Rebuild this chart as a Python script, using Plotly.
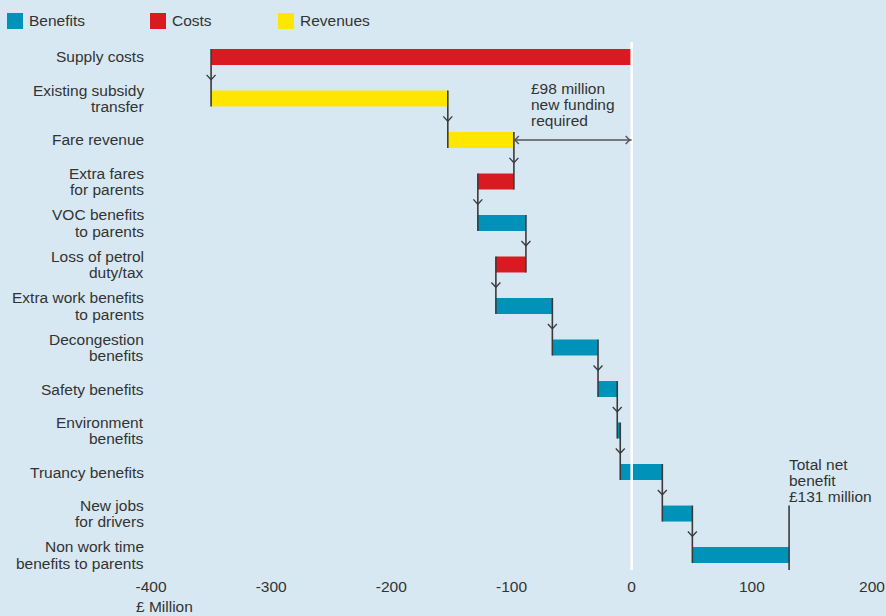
import plotly.graph_objects as go

# Row labels, top to bottom
categories = [
    "Supply costs",
    "Existing subsidy<br>transfer",
    "Fare revenue",
    "Extra fares<br>for parents",
    "VOC benefits<br>to parents",
    "Loss of petrol<br>duty/tax",
    "Extra work benefits<br>to parents",
    "Decongestion<br>benefits",
    "Safety benefits",
    "Environment<br>benefits",
    "Truancy benefits",
    "New jobs<br>for drivers",
    "Non work time<br>benefits to parents",
]
# Change contributed by each item (£ million)
changes = [-350, 197, 55, -30, 40, -25, 47, 38, 16, 2.5, 35, 25, 80.5]
kinds = ["Costs", "Revenues", "Revenues", "Costs", "Benefits", "Costs",
         "Benefits", "Benefits", "Benefits", "Benefits", "Benefits",
         "Benefits", "Benefits"]
funding_gap = 98
net_benefit = 131
x_ticks = [-400, -300, -200, -100, 0, 100, 200]

colors = {"Benefits": "#0092b9", "Costs": "#d91b21", "Revenues": "#ffe600"}
bg = "#d7e8f2"
ink = "#333333"
line_col = "#3a3a3a"
FONT = "Liberation Sans, Arial, Helvetica, sans-serif"
FS = 15.5
LINE_H = 16.3

# running totals
starts, ends = [], []
total = 0
for c in changes:
    starts.append(total)
    total += c
    ends.append(total)

rows = list(range(len(categories)))
bar_w = 0.385
hw = bar_w / 2
y_top, y_bot = -0.36, 12.36

fig = go.Figure()
for kind in ["Benefits", "Costs", "Revenues"]:
    idx = [i for i in rows if kinds[i] == kind]
    fig.add_trace(go.Bar(
        name=kind, orientation="h",
        y=[rows[i] for i in idx],
        x=[changes[i] for i in idx],
        base=[starts[i] for i in idx],
        width=bar_w,
        marker=dict(color=colors[kind], line=dict(width=0)),
        showlegend=False, hoverinfo="skip",
    ))

shapes = []
# white zero line over the bars
shapes.append(dict(type="line", xref="x", yref="paper", x0=0, x1=0, y0=0, y1=1,
                   line=dict(color="white", width=2.5), layer="above"))

# connectors between consecutive bars, with a down chevron midway
for i in rows[:-1]:
    xv = ends[i]
    shapes.append(dict(type="line", xref="x", yref="y", x0=xv, x1=xv,
                       y0=rows[i] - hw, y1=rows[i + 1] + hw,
                       line=dict(color=line_col, width=1.6)))
    shapes.append(dict(type="path", xref="x", yref="y",
                       xsizemode="pixel", ysizemode="pixel",
                       xanchor=xv, yanchor=rows[i] + 0.5,
                       path="M-4.5,2.8 L0,-2 L4.5,2.8",
                       line=dict(color=line_col, width=1.3)))
# closing line at the net total
last = rows[-1]
shapes.append(dict(type="line", xref="x", yref="y", x0=ends[last], x1=ends[last],
                   y0=rows[last - 1] - hw, y1=y_bot,
                   line=dict(color=line_col, width=1.6)))

# double-headed arrow showing the funding gap
gap_row = 2
shapes.append(dict(type="line", xref="x", yref="y", x0=-funding_gap, x1=0,
                   y0=gap_row, y1=gap_row,
                   line=dict(color="#555555", width=1.6)))
shapes.append(dict(type="path", xref="x", yref="y", xsizemode="pixel",
                   ysizemode="pixel", xanchor=-funding_gap, yanchor=gap_row,
                   path="M5,4 L1,0 L5,-4", line=dict(color="#555555", width=1.4)))
shapes.append(dict(type="path", xref="x", yref="y", xsizemode="pixel",
                   ysizemode="pixel", xanchor=0, yanchor=gap_row,
                   path="M-6,4 L-2,0 L-6,-4", line=dict(color="#555555", width=1.4)))

# plot-area geometry (pixels) used for paper-space placement
L, R, T, B = 151, 14, 42, 46
PW, PH = 886 - L - R, 616 - T - B


def px(x):
    return (x - L) / PW


def py(y):
    return (616 - B - y) / PH


def label(text, **kw):
    base = dict(text=text, showarrow=False, borderpad=0, borderwidth=0,
                font=dict(family=FONT, size=FS, color=ink))
    base.update(kw)
    return base


annotations = []

# legend swatches and names
legend_items = [("Benefits", 7, 30), ("Costs", 150, 173), ("Revenues", 278, 301)]
for name, sx, tx in legend_items:
    shapes.append(dict(type="rect", xref="paper", yref="paper",
                       x0=px(sx), x1=px(sx + 16), y0=py(29), y1=py(13),
                       fillcolor=colors[name], line=dict(width=0)))
    annotations.append(label(name, xref="paper", yref="paper", x=px(tx - 1),
                             y=py(21), xanchor="left", yanchor="middle"))

# row labels, right aligned against the plot, tight line spacing
for r, cat in zip(rows, categories):
    lines = cat.split("<br>")
    n = len(lines)
    for k, ln in enumerate(lines):
        annotations.append(label(ln, xref="paper", yref="y", x=px(144), y=r,
                                 xanchor="right", yanchor="middle",
                                 yshift=((n - 1) / 2 - k) * LINE_H))

# funding-gap note
gap_lines = [f"£{funding_gap} million", "new funding", "required"]
for k, ln in enumerate(gap_lines):
    annotations.append(label(ln, xref="x", yref="y", x=-83.5, y=1.15,
                             xanchor="left", yanchor="middle",
                             yshift=(1 - k) * LINE_H))

# net total note
net_lines = ["Total net", "benefit", f"£{net_benefit} million"]
for k, ln in enumerate(net_lines):
    annotations.append(label(ln, xref="x", yref="y", x=net_benefit, y=10.2,
                             xanchor="left", yanchor="middle",
                             yshift=(1 - k) * LINE_H))

annotations.append(label("£ Million", xref="paper", yref="paper", x=px(135.5),
                         y=py(606), xanchor="left", yanchor="middle"))

fig.update_layout(
    width=886, height=616,
    margin=dict(l=L, r=R, t=T, b=B),
    paper_bgcolor=bg, plot_bgcolor=bg,
    barmode="overlay",
    font=dict(family=FONT, size=FS, color=ink),
    shapes=shapes, annotations=annotations,
    xaxis=dict(range=[-400, 200], tickvals=x_ticks,
               ticktext=[str(v) for v in x_ticks], automargin=False,
               showgrid=False, zeroline=False, showline=False, ticks="",
               ticklabelstandoff=5,
               tickfont=dict(size=FS, color=ink, family=FONT)),
    yaxis=dict(range=[y_bot, y_top], tickvals=rows, showticklabels=False,
               automargin=False, showgrid=False, zeroline=False,
               showline=False, ticks=""),
)

fig.write_html("out.html")
